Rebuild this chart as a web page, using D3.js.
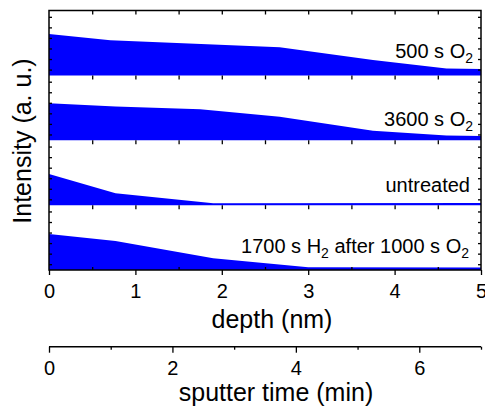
<!DOCTYPE html>
<html>
<head>
<meta charset="utf-8">
<script src="https://cdn.jsdelivr.net/npm/d3@7"></script>
<style>
  html, body { margin: 0; padding: 0; background: #fff; }
  svg { display: block; }
  text { font-family: "Liberation Sans", Arial, sans-serif; fill: #000; }
</style>
</head>
<body>
<svg id="chart" width="485" height="407"></svg>
<script>
// Depth profiles (depth in nm, intensity in a.u.), one per sample treatment
const profile500sO2 = [[0, 3.92], [0.71, 3.33], [1.9, 2.93], [2.67, 2.66], [3.75, 1.46], [4.6, 0.65], [5, 0.61]];
const profile3600sO2 = [[0, 3.50], [0.77, 3.20], [1.75, 2.93], [2.67, 2.23], [3.75, 0.91], [4.6, 0.45], [5, 0.40]];
const profileUntreated = [[0, 2.95], [0.77, 1.12], [1.9, 0.18], [5, 0.2]];
const profileH2afterO2 = [[0, 3.41], [0.77, 2.75], [1.9, 1.11], [3.0, 0.26], [5, 0.24]];

// Panel labels as runs of [text, isSubscript]
const panelLabels = [
  [["500 s O", false], ["2", true]],
  [["3600 s O", false], ["2", true]],
  [["untreated", false]],
  [["1700 s H", false], ["2", true], [" after 1000 s O", false], ["2", true]]
];
const profiles = [profile500sO2, profile3600sO2, profileUntreated, profileH2afterO2];

const depthTicks = [0, 1, 2, 3, 4, 5];
const depthMinorTicks = [0.5, 1.5, 2.5, 3.5, 4.5];
const depthPanelTicks = [0.5, 1, 1.5, 2, 2.5, 3, 3.5, 4, 4.5];
const timeTicks = [0, 2, 4, 6];
const timeMinorTicks = [1, 3, 5, 7];
const intensityTicks = [0.55, 1.55, 2.55, 3.55, 4.55, 5.55];
const intensityDomain = [0, 6.15];
const depthDomain = [0, 5];
const timeDomain = [0, 7];

const svg = d3.select("#chart");
const plotLeft = 49, plotRight = 481, plotTop = 10.5, plotBottom = 270;
const panelH = (plotBottom - plotTop) / profiles.length;

const x = d3.scaleLinear().domain(depthDomain).range([plotLeft, plotRight]);
const xTime = d3.scaleLinear().domain(timeDomain).range([plotLeft, plotRight]);

const labelBaselines = [58.3, 126, 191.7, 253.3];
const labelRight = [473, 473, 470, 469];

profiles.forEach((data, i) => {
  const pTop = plotTop + i * panelH, pBot = pTop + panelH;
  const y = d3.scaleLinear().domain(intensityDomain).range([pBot, pTop]);

  // filled profile
  const area = d3.area()
    .x(d => x(d[0]))
    .y0(y(intensityDomain[0]))
    .y1(d => y(d[1]));
  svg.append("path").datum(data)
    .attr("d", area)
    .attr("fill", "#0000ff");

  // inward ticks along the panel top
  const gt = svg.append("g").attr("transform", `translate(0,${pTop})`)
    .call(d3.axisBottom(x).tickValues(depthPanelTicks).tickSize(4).tickFormat(""));
  gt.select(".domain").remove();

  // inward ticks on left and right borders
  const la = svg.append("g").attr("transform", `translate(${plotLeft},0)`)
    .call(d3.axisRight(y).tickValues(intensityTicks).tickSize(3).tickFormat(""));
  la.select(".domain").remove();
  const ra = svg.append("g").attr("transform", `translate(${plotRight},0)`)
    .call(d3.axisLeft(y).tickValues(intensityTicks).tickSize(3).tickFormat(""));
  ra.select(".domain").remove();

  // panel label, right-aligned
  const t = svg.append("text")
    .attr("x", labelRight[i])
    .attr("y", labelBaselines[i])
    .attr("text-anchor", "end")
    .attr("font-size", 20);
  let shifted = false;
  panelLabels[i].forEach(([s, sub]) => {
    const ts = t.append("tspan").text(s);
    if (sub) { ts.attr("font-size", 14).attr("dy", 5); shifted = true; }
    else if (shifted) { ts.attr("dy", -5); shifted = false; }
  });
});

// Frame
svg.append("rect")
  .attr("x", plotLeft).attr("y", plotTop)
  .attr("width", plotRight - plotLeft).attr("height", plotBottom - plotTop)
  .attr("fill", "none").attr("stroke", "#000").attr("stroke-width", 1.5);

// Depth axis
const dAxis = svg.append("g").attr("transform", `translate(0,${plotBottom})`)
  .call(d3.axisBottom(x).tickValues(depthTicks).tickSize(5).tickPadding(9).tickFormat(d3.format("d")));
dAxis.select(".domain").remove();
dAxis.selectAll("text").attr("font-size", 20).attr("font-family", "Liberation Sans, Arial, sans-serif");
const dMinor = svg.append("g").attr("transform", `translate(0,${plotBottom})`)
  .call(d3.axisBottom(x).tickValues(depthMinorTicks).tickSize(-3).tickFormat(""));
dMinor.select(".domain").remove();

svg.append("text")
  .attr("x", 272).attr("y", 328)
  .attr("text-anchor", "middle").attr("font-size", 25)
  .text("depth (nm)");

// Sputter time axis
const tY = 346.7;
const tAxis = svg.append("g").attr("transform", `translate(0,${tY})`)
  .call(d3.axisBottom(xTime).tickValues(timeTicks).tickSize(6).tickPadding(8).tickFormat(d3.format("d")));
tAxis.select(".domain").attr("d", `M${plotLeft},0H${plotRight}`).attr("stroke-width", 1.5);
tAxis.selectAll("text").attr("font-size", 20).attr("font-family", "Liberation Sans, Arial, sans-serif");
const tMinor = svg.append("g").attr("transform", `translate(0,${tY})`)
  .call(d3.axisBottom(xTime).tickValues(timeMinorTicks).tickSize(3).tickFormat(""));
tMinor.select(".domain").remove();

svg.selectAll("g line").attr("stroke-width", 1.3);

svg.append("text")
  .attr("x", 276).attr("y", 401)
  .attr("text-anchor", "middle").attr("font-size", 25)
  .text("sputter time (min)");

// Intensity title
svg.append("text")
  .attr("transform", "translate(31,141) rotate(-90)")
  .attr("text-anchor", "middle").attr("font-size", 25)
  .text("Intensity (a. u.)");
</script>
</body>
</html>
